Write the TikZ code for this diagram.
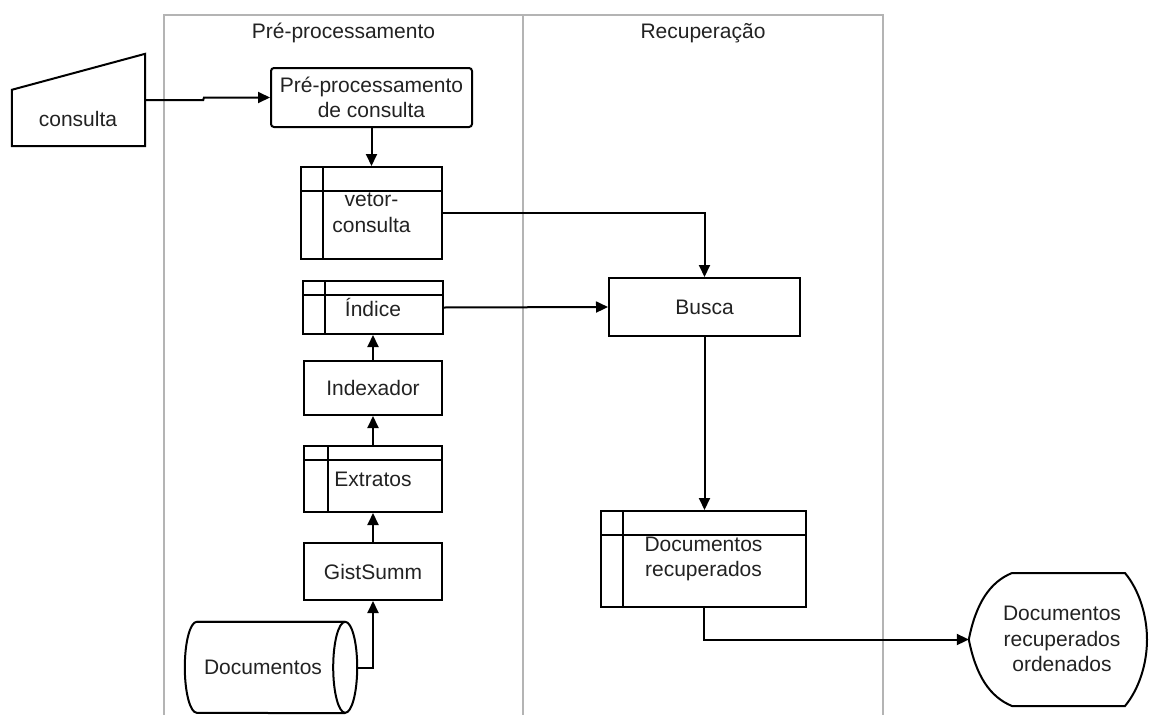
\documentclass[tikz,border=0pt]{standalone}
\usepackage{fontspec}
\setmainfont{Liberation Sans}
\usetikzlibrary{arrows.meta,calc}
\definecolor{lanegray}{HTML}{B4B4B4}
\definecolor{txt}{HTML}{222222}
\tikzset{
  lbl/.style={font=\fontsize{21}{25.5}\selectfont, text=txt, align=center, inner sep=0},
  box/.style 2 args={lbl, draw=black, line width=2pt, minimum width=#1, minimum height=#2},
  store/.style 2 args={path picture={
      \draw[line width=2pt] ([xshift=#2]path picture bounding box.north west) -- ([xshift=#2]path picture bounding box.south west);
      \draw[line width=2pt] ([yshift=-#1]path picture bounding box.north west) -- ([yshift=-#1]path picture bounding box.north east);}},
  area/.style 2 args={inner sep=0, minimum width=#1, minimum height=#2},
  shapeline/.style={draw=black, line width=2pt},
  arr/.style={draw=black, line width=2pt, -{Triangle[length=12pt,width=11pt]}},
  lane/.style={draw=lanegray, line width=2.6pt}
}
\begin{document}
\begin{tikzpicture}[x=1pt,y=-1pt]
\useasboundingbox (0,0) rectangle (1149,715);
% swimlanes
\draw[lane] (164,715) -- (164,15) -- (883,15) -- (883,715);
\draw[lane] (523,15) -- (523,715);
\node[lbl] (t1) at (343.5,33) {Pré-processamento};
\node[lbl] (t2) at (703,33) {Recuperação};

% consulta (manual input)
\node[area={133pt}{92pt}] (consulta) at (78.5,100) {};
\draw[shapeline] ([yshift=-36pt]consulta.north west) -- (consulta.north east) -- (consulta.south east) -- (consulta.south west) -- cycle;
\node[lbl] (consultaText) at (78,119) {consulta};

% boxes
\node[box={201pt}{59pt}, rounded corners=3pt] (pre) at (371.5,97.5) {Pré-processamento\\de consulta};
\node[box={141pt}{92pt}, store={24pt}{22pt}] (vetor) at (371.5,213) {vetor-\\consulta};
\node[box={140pt}{53pt}, store={14pt}{22pt}] (indice) at (373,307.5) {Índice};
\node[box={138pt}{54pt}] (index) at (373,388) {Indexador};
\node[box={138pt}{66pt}, store={14pt}{24pt}] (extr) at (373,479) {Extratos};
\node[box={138pt}{57pt}] (gist) at (373,571.5) {GistSumm};
\node[box={191pt}{58pt}] (busca) at (704.5,307) {Busca};
\node[box={205pt}{96pt}, store={24pt}{22pt}] (docrec) at (703.5,559) {Documentos\\recuperados};

% Documentos (horizontal cylinder)
\node[area={172pt}{91pt}] (docs) at (271,667.5) {};
\draw[shapeline] ([xshift=12pt]docs.north west) -- ([xshift=-12pt]docs.north east)
  arc[start angle=90, end angle=-270, x radius=12pt, y radius=45.5pt];
\draw[shapeline] ([xshift=-12pt]docs.north east) -- ([xshift=12pt]docs.north west)
  arc[start angle=90, end angle=270, x radius=12pt, y radius=45.5pt] -- ([xshift=-12pt]docs.south east);
\node[lbl] (docsText) at (263,667.5) {Documentos};

% display shape
\node[area={178pt}{133pt}] (disp) at (1058,639.5) {};
\draw[shapeline] (disp.west) .. controls (976,603) and (990,582) .. (1012,573) -- (1125,573)
  .. controls (1139,590) and (1147,615) .. (1147,639.5)
  .. controls (1147,664) and (1139,689) .. (1125,706) -- (1012,706)
  .. controls (990,697) and (976,676) .. (disp.west) -- cycle;
\node[lbl] (dispText) at (1062,639) {Documentos\\recuperados\\ordenados};

% connectors
\draw[arr] (consulta.east) -- ++(58pt,0) -- ([xshift=-66pt]pre.west) -- (pre.west);
\draw[arr] (pre.south) -- (vetor.north);
\draw[arr] (vetor.east) -| (busca.north);
\draw[arr] (indice.east) -- (busca.west);
\draw[arr] (index.north) -- (indice.south);
\draw[arr] (extr.north) -- (index.south);
\draw[arr] (gist.north) -- (extr.south);
\draw[arr] (docs.east) -| (gist.south);
\draw[arr] (busca.south) -- (busca.south |- docrec.north);
\draw[arr] (docrec.south) |- (disp.west);
\end{tikzpicture}
\end{document}
